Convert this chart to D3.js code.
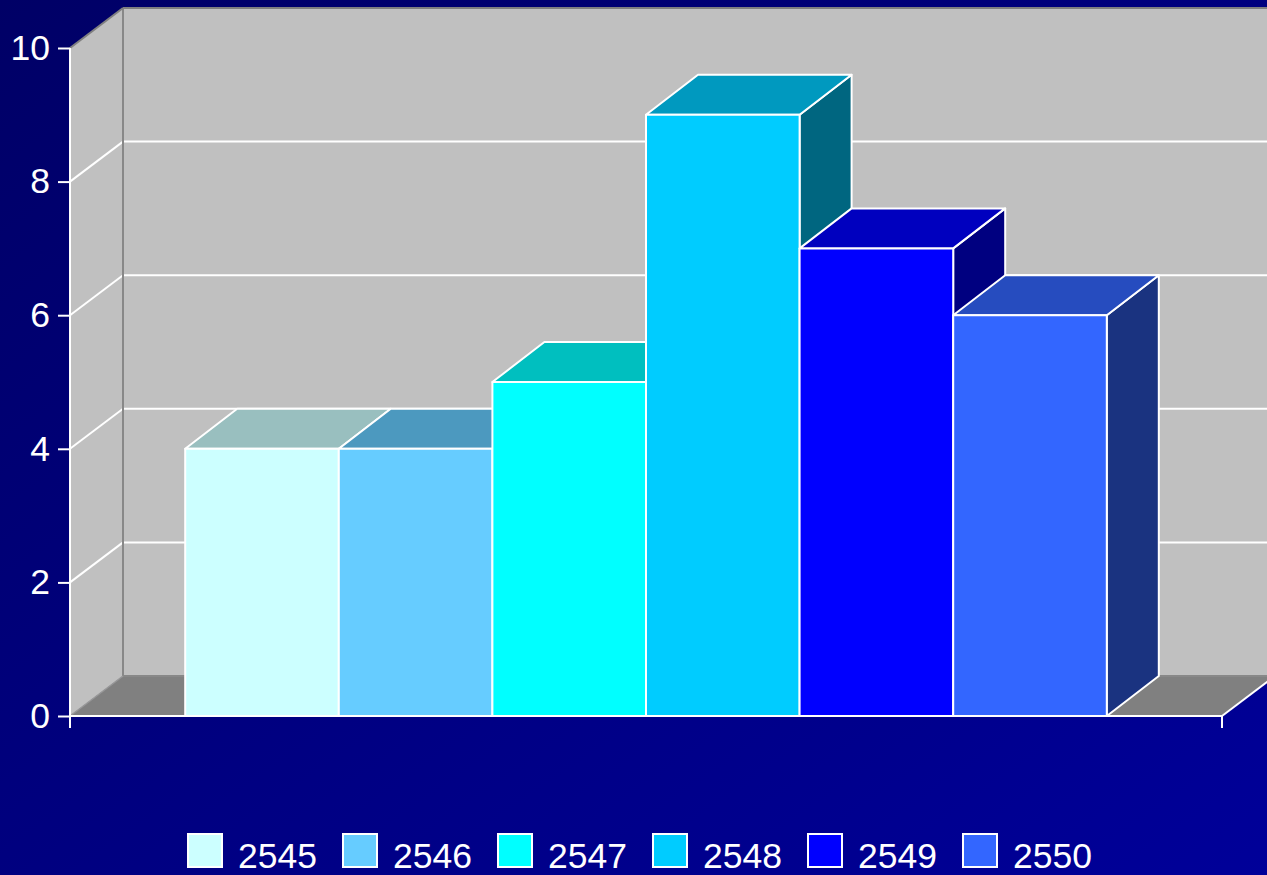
<!DOCTYPE html>
<html><head><meta charset="utf-8">
<script src="https://cdn.jsdelivr.net/npm/d3@7"></script>
<style>html,body{margin:0;padding:0;overflow:hidden;background:#000066}</style>
</head><body>
<script>
const categories = ["2545","2546","2547","2548","2549","2550"];
const values = [4, 4, 5, 9, 7, 6];
const frontColors = ["#CCFFFF","#66CCFF","#00FFFF","#00CCFF","#0000FF","#3366FF"];
const topColors   = ["#99BFBF","#4C99BF","#00BFBF","#0099BF","#0000BF","#264CBF"];
const sideColors  = ["#668080","#336680","#008080","#006680","#000080","#1A3380"];
const yTicks = [0, 2, 4, 6, 8, 10];

const W = 1267, H = 875;
const svg = d3.select("body").append("svg").attr("width", W).attr("height", H);
const defs = svg.append("defs");
const g = defs.append("linearGradient").attr("id","bg").attr("x1","0").attr("y1","0").attr("x2","1").attr("y2","1");
g.append("stop").attr("offset","0").attr("stop-color","#000066");
g.append("stop").attr("offset","1").attr("stop-color","#000099");
svg.append("rect").attr("width",W).attr("height",H).attr("fill","url(#bg)");

const x0 = 70, x1 = 1222, dx = 53, dy = -40;
const y = d3.scaleLinear().domain([0,10]).range([716,48]);
const x = d3.scaleBand().domain(categories).range([x0,x1]).paddingInner(0).paddingOuter(0.75);
const bw = x.bandwidth();
const bx = 52, by = -40;

const poly = pts => pts.map(p=>p.join(",")).join(" ");

// back wall
svg.append("polygon").attr("points", poly([[x0+dx,y(10)+dy],[x1+dx,y(10)+dy],[x1+dx,y(0)+dy],[x0+dx,y(0)+dy]]))
  .attr("fill","#C0C0C0");
// left wall
svg.append("polygon").attr("points", poly([[x0,y(10)],[x0+dx,y(10)+dy],[x0+dx,y(0)+dy],[x0,y(0)]]))
  .attr("fill","#C0C0C0");
// floor
svg.append("polygon").attr("points", poly([[x0,y(0)],[x0+dx,y(0)+dy],[x1+dx,y(0)+dy],[x1,y(0)]]))
  .attr("fill","#808080");

// gridlines
const gridVals = yTicks.filter(v => v > 0 && v < 10);
svg.selectAll(".gb").data(gridVals).enter().append("line")
  .attr("x1", x0+dx).attr("x2", x1+dx).attr("y1", d=>y(d)+dy).attr("y2", d=>y(d)+dy)
  .attr("stroke","#fff").attr("stroke-width",2);
svg.selectAll(".gl").data(gridVals).enter().append("line")
  .attr("x1", x0).attr("x2", x0+dx).attr("y1", d=>y(d)).attr("y2", d=>y(d)+dy)
  .attr("stroke","#fff").attr("stroke-width",2);

// wall edges
svg.append("line").attr("x1",x0+dx).attr("x2",x0+dx).attr("y1",y(10)+dy).attr("y2",y(0)+dy).attr("stroke","#888").attr("stroke-width",2);
svg.append("line").attr("x1",x0+dx).attr("x2",x1+dx).attr("y1",y(10)+dy).attr("y2",y(10)+dy).attr("stroke","#808080").attr("stroke-width",2);
svg.append("line").attr("x1",x0).attr("x2",x0+dx).attr("y1",y(10)).attr("y2",y(10)+dy).attr("stroke","#808080").attr("stroke-width",2);
svg.append("line").attr("x1",x0+dx).attr("x2",x1+dx).attr("y1",y(0)+dy).attr("y2",y(0)+dy).attr("stroke","#888").attr("stroke-width",2);
svg.append("line").attr("x1",x0).attr("x2",x0+dx).attr("y1",y(0)).attr("y2",y(0)+dy).attr("stroke","#999").attr("stroke-width",1.5);
svg.append("line").attr("x1",x1).attr("x2",x1+dx).attr("y1",y(0)).attr("y2",y(0)+dy).attr("stroke","#fff").attr("stroke-width",2);

// bars
const bars = svg.append("g");
categories.forEach((c,i) => {
  const L = x(c), R = L + bw, T = y(values[i]), B = y(0);
  const gg = bars.append("g").attr("stroke","#fff").attr("stroke-width",2).attr("stroke-linejoin","round");
  gg.append("polygon").attr("points", poly([[R,T],[R+bx,T+by],[R+bx,B+by],[R,B]])).attr("fill", sideColors[i]);
  gg.append("polygon").attr("points", poly([[L,T],[L+bx,T+by],[R+bx,T+by],[R,T]])).attr("fill", topColors[i]);
  gg.append("rect").attr("x",L).attr("y",T).attr("width",bw).attr("height",B-T).attr("fill", frontColors[i]);
});

// axes
svg.append("line").attr("x1",x0).attr("x2",x1).attr("y1",y(0)).attr("y2",y(0)).attr("stroke","#fff").attr("stroke-width",2);
svg.append("line").attr("x1",x0).attr("x2",x0).attr("y1",y(10)).attr("y2",y(0)+12).attr("stroke","#fff").attr("stroke-width",2);
svg.append("line").attr("x1",x1).attr("x2",x1).attr("y1",y(0)).attr("y2",y(0)+12).attr("stroke","#fff").attr("stroke-width",2);

const yAxis = d3.axisLeft(y).tickValues(yTicks).tickSize(12).tickPadding(8).tickFormat(d3.format("d"));
const ya = svg.append("g").attr("transform",`translate(${x0},0)`).call(yAxis);
ya.select(".domain").remove();
ya.selectAll(".tick line").attr("stroke","#fff").attr("stroke-width",2);
ya.selectAll(".tick text").attr("fill","#fff").attr("font-family","'Liberation Sans', Arial, sans-serif").attr("font-size",35.5);

// legend
const leg = svg.append("g").attr("font-family","'Liberation Sans', Arial, sans-serif").attr("font-size",35.5).attr("fill","#fff");
const lx = d3.scalePoint().domain(categories).range([188, 188+5*155]);
categories.forEach((c,i) => {
  leg.append("rect").attr("x",lx(c)).attr("y",834).attr("width",34).attr("height",33)
    .attr("fill",frontColors[i]).attr("stroke","#fff").attr("stroke-width",2);
  leg.append("text").attr("x",lx(c)+50).attr("y",868).text(c);
});
</script>
</body></html>
